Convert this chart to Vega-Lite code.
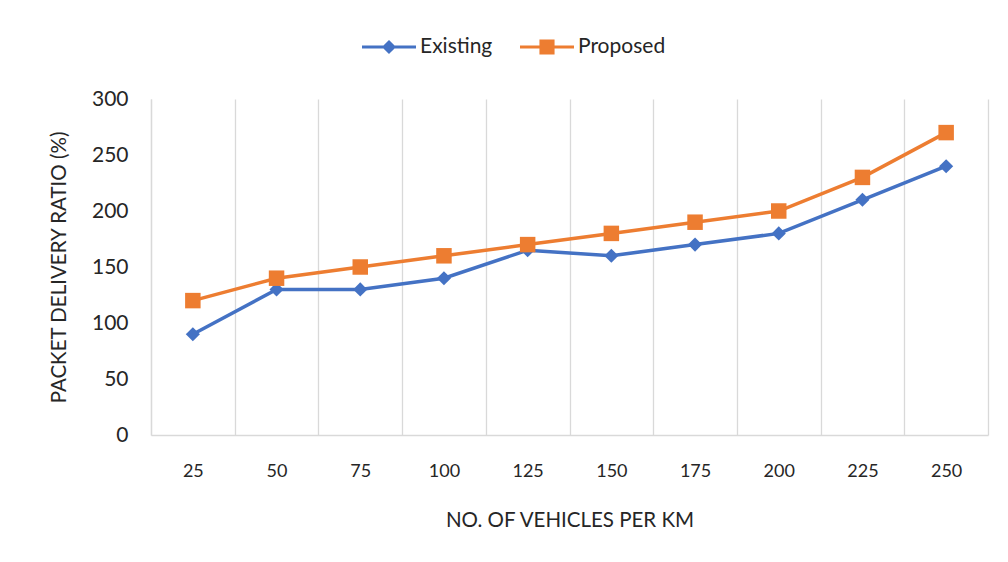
{
  "$schema": "https://vega.github.io/schema/vega-lite/v6.json",
  "width": 837,
  "height": 336,
  "autosize": "none",
  "padding": {"left": 151, "top": 99, "right": 20, "bottom": 127},
  "background": "white",
  "config": {"view": {"stroke": null}, "font": "Lato"},
  "data": {
    "values": [
      {"vehicles": 25, "series": "Existing", "pdr": 90},
      {"vehicles": 50, "series": "Existing", "pdr": 130},
      {"vehicles": 75, "series": "Existing", "pdr": 130},
      {"vehicles": 100, "series": "Existing", "pdr": 140},
      {"vehicles": 125, "series": "Existing", "pdr": 165},
      {"vehicles": 150, "series": "Existing", "pdr": 160},
      {"vehicles": 175, "series": "Existing", "pdr": 170},
      {"vehicles": 200, "series": "Existing", "pdr": 180},
      {"vehicles": 225, "series": "Existing", "pdr": 210},
      {"vehicles": 250, "series": "Existing", "pdr": 240},
      {"vehicles": 25, "series": "Proposed", "pdr": 120},
      {"vehicles": 50, "series": "Proposed", "pdr": 140},
      {"vehicles": 75, "series": "Proposed", "pdr": 150},
      {"vehicles": 100, "series": "Proposed", "pdr": 160},
      {"vehicles": 125, "series": "Proposed", "pdr": 170},
      {"vehicles": 150, "series": "Proposed", "pdr": 180},
      {"vehicles": 175, "series": "Proposed", "pdr": 190},
      {"vehicles": 200, "series": "Proposed", "pdr": 200},
      {"vehicles": 225, "series": "Proposed", "pdr": 230},
      {"vehicles": 250, "series": "Proposed", "pdr": 270}
    ]
  },
  "encoding": {
    "x": {
      "field": "vehicles",
      "type": "ordinal",
      "scale": {"type": "band", "paddingInner": 0, "paddingOuter": 0},
      "axis": {
        "title": "NO. OF VEHICLES PER KM",
        "labelAngle": 0,
        "tickBand": "extent",
        "grid": true,
        "gridColor": "#d9d9d9",
        "gridWidth": 1.3,
        "ticks": false,
        "domainColor": "#d9d9d9",
        "domainWidth": 1.3,
        "labelFontSize": 18,
        "labelColor": "#262626",
        "labelPadding": 27,
        "titleFontSize": 20.5,
        "titleFontWeight": "normal",
        "titleColor": "#262626",
        "titlePadding": 30
      }
    },
    "y": {
      "field": "pdr",
      "type": "quantitative",
      "scale": {"domain": [0, 300], "nice": false},
      "axis": {
        "title": "PACKET DELIVERY RATIO (%)",
        "values": [0, 50, 100, 150, 200, 250, 300],
        "grid": false,
        "ticks": false,
        "domainColor": "#d9d9d9",
        "domainWidth": 1.3,
        "labelFontSize": 21,
        "labelColor": "#262626",
        "labelPadding": 23,
        "titleFontSize": 20.5,
        "titleFontWeight": "normal",
        "titleColor": "#262626",
        "titlePadding": 22
      }
    },
    "color": {
      "field": "series",
      "type": "nominal",
      "scale": {"domain": ["Existing", "Proposed"], "range": ["#4472C4", "#ED7D31"]},
      "legend": {
        "title": null,
        "orient": "none",
        "direction": "horizontal",
        "legendX": 211,
        "legendY": -79,
        "labelFontSize": 21,
        "labelColor": "#262626",
        "labelOffset": 4,
        "columnPadding": 27,
        "symbolSize": 2916,
        "symbolStrokeWidth": 0,
        "symbolOpacity": 1,
        "encode": {
          "symbols": {
            "update": {
              "shape": [
                {"test": "datum.label === 'Existing'", "value": "M-1,-0.06L1,-0.06L1,0.06L-1,0.06Z M0,-0.26L0.26,0L0,0.26L-0.26,0Z"},
                {"value": "M-1,-0.06L1,-0.06L1,0.06L-1,0.06Z M-0.28,-0.28L0.28,-0.28L0.28,0.28L-0.28,0.28Z"}
              ],
              "fill": [
                {"test": "datum.label === 'Existing'", "value": "#4472C4"},
                {"value": "#ED7D31"}
              ],
              "strokeWidth": {"value": 0},
              "opacity": {"value": 1}
            }
          }
        }
      }
    }
  },
  "layer": [
    {
      "mark": {"type": "line", "strokeWidth": 3.5}
    },
    {
      "mark": {"type": "point", "filled": true, "opacity": 1},
      "encoding": {
        "shape": {
          "condition": {"test": "datum.series === 'Existing'", "value": "diamond"},
          "value": "square"
        },
        "size": {
          "condition": {"test": "datum.series === 'Existing'", "value": 200},
          "value": 240
        }
      }
    }
  ]
}
